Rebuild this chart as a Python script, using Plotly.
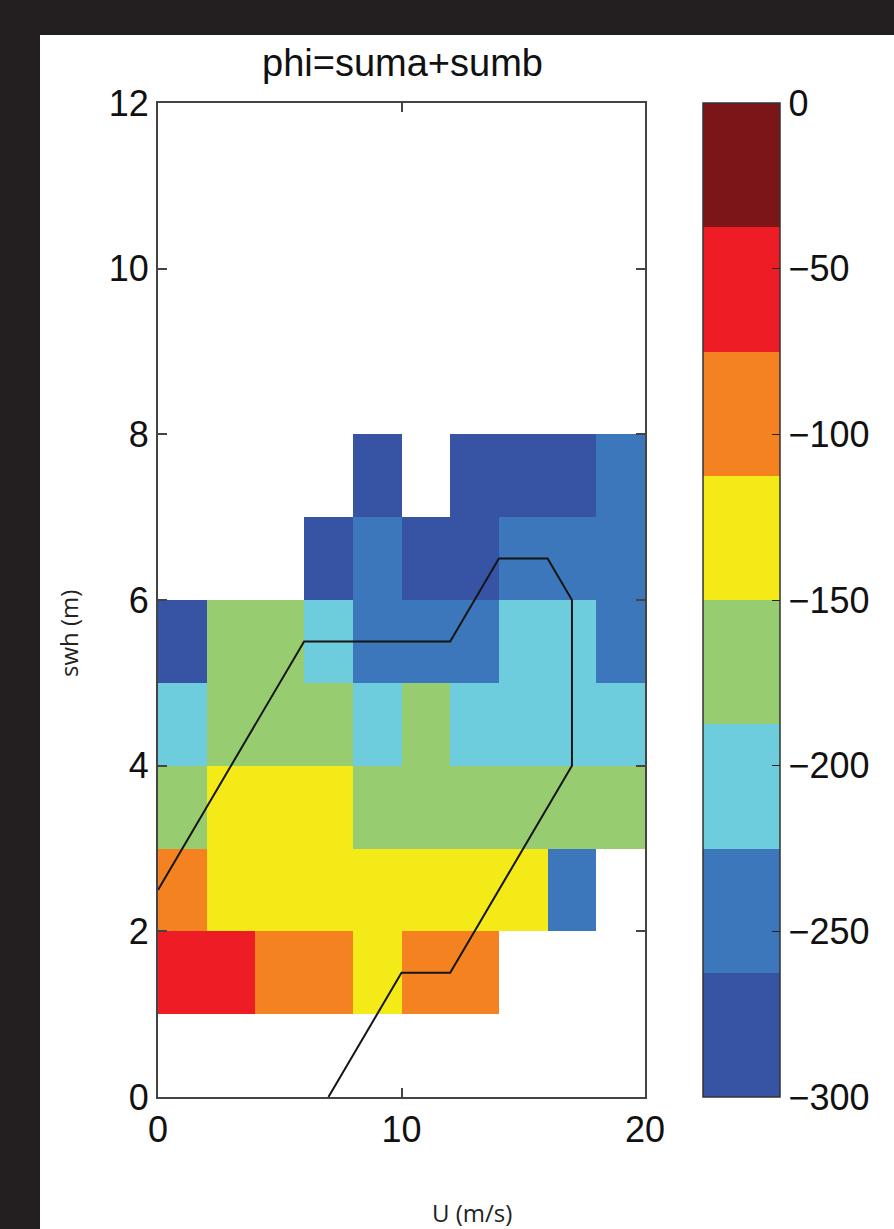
import plotly.graph_objects as go

# ---- data ----
u_centers = [1, 3, 5, 7, 9, 11, 13, 15, 17, 19]          # U (m/s) bin centres
swh_centers = [0.5, 1.5, 2.5, 3.5, 4.5, 5.5, 6.5, 7.5, 8.5, 9.5, 10.5, 11.5]  # swh (m)

N = None
phi_row0 = [N, N, N, N, N, N, N, N, N, N]
phi_row1 = [-55, -55, -95, -95, -130, -95, -95, N, N, N]
phi_row2 = [-95, -130, -130, -130, -130, -130, -130, -130, -245, N]
phi_row3 = [-170, -130, -130, -130, -170, -170, -170, -170, -170, -170]
phi_row4 = [-205, -170, -170, -170, -205, -170, -205, -205, -205, -205]
phi_row5 = [-280, -170, -170, -205, -245, -245, -245, -205, -205, -245]
phi_row6 = [N, N, N, -280, -245, -280, -280, -245, -245, -245]
phi_row7 = [N, N, N, N, -280, N, -280, -280, -280, -245]
phi_row8 = [N] * 10
phi_row9 = [N] * 10
phi_row10 = [N] * 10
phi_row11 = [N] * 10

line_u = [0, 6, 12, 14, 16, 17, 17, 12, 10, 7]
line_swh = [2.5, 5.5, 5.5, 6.5, 6.5, 6, 4, 1.5, 1.5, 0]

x_ticks = [0, 10, 20]
y_ticks = [0, 2, 4, 6, 8, 10, 12]
cb_ticks = [0, -50, -100, -150, -200, -250, -300]

bin_colors = ["#3753a4", "#3d77bb", "#6ecddd", "#98cc70",
              "#f3ea18", "#f58220", "#ee1d25", "#7b1517"]

z = [phi_row0, phi_row1, phi_row2, phi_row3, phi_row4, phi_row5,
     phi_row6, phi_row7, phi_row8, phi_row9, phi_row10, phi_row11]

colorscale = []
nb = len(bin_colors)
for i, c in enumerate(bin_colors):
    colorscale.append([i / nb, c])
    colorscale.append([(i + 1) / nb, c])

W, H = 894, 1229
L, R, T, B = 158, 249, 103, 132
pw, ph = W - L - R, H - T - B

def px(xp):
    return (xp - L) / pw

def py(yp):
    return (H - B - yp) / ph

fig = go.Figure()
fig.add_trace(go.Heatmap(
    x=u_centers, y=swh_centers, z=z,
    zmin=-300, zmax=0, colorscale=colorscale,
    hoverongaps=False,
    colorbar=dict(
        x=px(703), xanchor="left", xpad=0,
        y=0.5, yanchor="middle", len=1, lenmode="fraction", ypad=0,
        thickness=77, thicknessmode="pixels",
        outlinewidth=1.5, outlinecolor="#333333",
        tickvals=cb_ticks, ticks="inside", ticklen=8, tickcolor="#222222",
        tickfont=dict(family="Liberation Sans, Arial, sans-serif", size=36, color="#111111"),
    ),
))
fig.add_trace(go.Scatter(
    x=line_u, y=line_swh, mode="lines",
    line=dict(color="#151515", width=2), showlegend=False, hoverinfo="skip",
))

axis_common = dict(
    showgrid=False, zeroline=False, showline=True, linecolor="#444444", linewidth=2,
    mirror="ticks", ticks="inside", ticklen=9, tickcolor="#444444", tickwidth=1.5,
    tickfont=dict(family="Liberation Sans, Arial, sans-serif", size=36, color="#111111"),
)
fig.update_xaxes(range=[0, 20], tickvals=x_ticks, **axis_common)
fig.update_yaxes(range=[0, 12], tickvals=y_ticks, **axis_common)

fig.update_layout(
    width=W, height=H,
    margin=dict(l=L, r=R, t=T, b=B, autoexpand=False),
    paper_bgcolor="#231f20", plot_bgcolor="white",
    showlegend=False,
    shapes=[dict(type="rect", xref="paper", yref="paper",
                 x0=px(40), x1=px(W + 20), y0=py(H + 20), y1=py(35),
                 fillcolor="white", line=dict(width=0), layer="below")],
    annotations=[
        dict(text="phi=suma+sumb", xref="paper", yref="paper",
             x=px(402), y=py(63), xanchor="center", yanchor="middle", showarrow=False,
             font=dict(family="Liberation Sans, Arial, sans-serif", size=38, color="#111111")),
        dict(text="U (m/s)", xref="paper", yref="paper",
             x=px(472), y=py(1212), xanchor="center", yanchor="middle", showarrow=False,
             font=dict(family="Open Sans, sans-serif", size=24, color="#222222")),
        dict(text="swh (m)", xref="paper", yref="paper", textangle=-90,
             x=px(68), y=py(634), xanchor="center", yanchor="middle", showarrow=False,
             font=dict(family="Open Sans, sans-serif", size=24, color="#222222")),
    ],
)

fig.write_html(
    "out.html",
    config={"displayModeBar": False},
    post_script="document.body.style.margin='0';document.body.style.padding='0';"
                "document.body.style.overflow='hidden';"
                "document.body.style.background='#231f20';",
)
